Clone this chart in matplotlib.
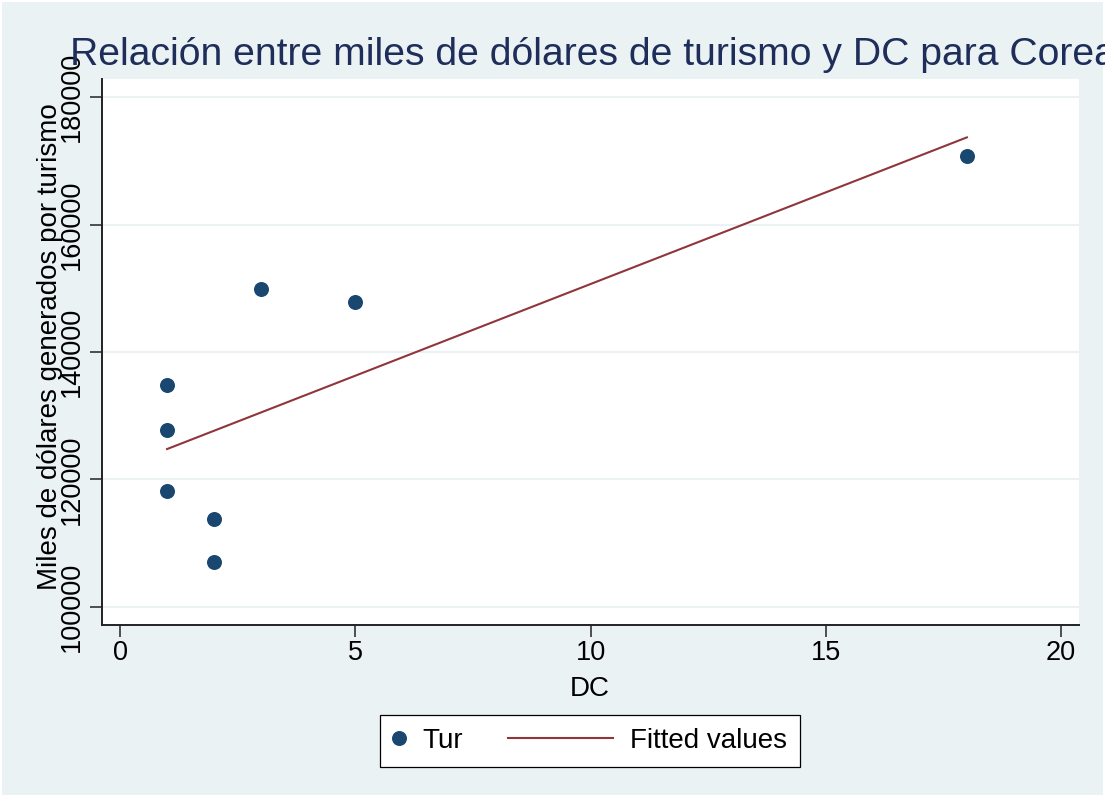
"""Scatter of tourism revenue vs DC for Korea, with linear fit (Stata s2color look)."""
import matplotlib
matplotlib.use("Agg")
import matplotlib.pyplot as plt
import numpy as np
from matplotlib.legend_handler import HandlerBase
from matplotlib.lines import Line2D
from matplotlib.patches import Rectangle

# ── Data ──────────────────────────────────────────────────────────────────────
dc = [1, 1, 1, 2, 2, 3, 5, 18]
tur = [134800, 127800, 118200, 113800, 107100, 149900, 147800, 170700]

y_ticks = [100000, 120000, 140000, 160000, 180000]
x_ticks = [0, 5, 10, 15, 20]

TITLE = "Relación entre miles de dólares de turismo y DC para Corea"
YLABEL = "Miles de dólares generados por turismo"
XLABEL = "DC"

# ── Style ─────────────────────────────────────────────────────────────────────
FONT = "Liberation Sans"
C_BG = "#EAF2F3"
C_MARK = "#1A476F"
C_FIT = "#90353B"
C_TITLE = "#1E2D5A"
W, H = 1105, 797

plt.rcParams["font.family"] = [FONT, "DejaVu Sans"]


def px(x, y):
    """pixel (from top-left) -> figure fraction"""
    return x / W, 1 - y / H


class WideLine(HandlerBase):
    """Legend key: line longer than the (narrow) handle box, extending left."""

    def create_artists(self, legend, orig_handle, xdescent, ydescent,
                       width, height, fontsize, trans):
        y = height / 2 - ydescent
        x1 = width - xdescent
        x0 = x1 - 105 * 72 / 100
        line = Line2D([x0, x1], [y, y], color=orig_handle.get_color(),
                      lw=orig_handle.get_linewidth())
        line.set_transform(trans)
        return [line]


fig = plt.figure(figsize=(W / 100, H / 100), dpi=100)
fig.patch.set_facecolor("white")
fig.patches.append(Rectangle(px(2, H - 2), (W - 4) / W, (H - 4) / H,
                             transform=fig.transFigure, facecolor=C_BG,
                             edgecolor="none", zorder=-10))

l, b = px(102, 625)
r, t = px(1079, 79)
ax = fig.add_axes([l, b, r - l, t - b])
ax.set_facecolor("white")

# fitted line (OLS, like Stata's lfit)
slope, intercept = np.polyfit(dc, tur, 1)
xf = np.array([min(dc), max(dc)])
fit, = ax.plot(xf, intercept + slope * xf, color=C_FIT, lw=1.5, zorder=3)
pts, = ax.plot(dc, tur, "o", color=C_MARK, ms=10.8, mew=0, zorder=4)

ax.set_xlim(-0.383, 20.383)
ax.set_ylim(97176, 182824)
ax.set_xticks(x_ticks)
ax.set_yticks(y_ticks)
ax.set_yticklabels([str(v) for v in y_ticks])

ax.grid(axis="y", color=C_BG, lw=1.5, zorder=0)
ax.set_axisbelow(True)
for s in ("top", "right"):
    ax.spines[s].set_visible(False)
for s in ("left", "bottom"):
    ax.spines[s].set_linewidth(1.4)
    ax.spines[s].set_color("#222222")

ax.tick_params(axis="both", length=8.5, width=1.2, color="#333333",
               labelsize=19.5, labelcolor="black")
ax.tick_params(axis="y", pad=4, labelrotation=90)
ax.tick_params(axis="x", pad=2)
for lbl in ax.get_yticklabels():
    lbl.set_va("center")

# ── Texts ─────────────────────────────────────────────────────────────────────
fig.text(*px(70, 65), TITLE, ha="left", va="baseline", fontsize=28.2,
         color=C_TITLE)
fig.text(*px(57, 347), YLABEL, rotation=90, rotation_mode="anchor",
         ha="center", va="baseline", fontsize=20, color="black")
fig.text(*px(590, 696), XLABEL, ha="center", va="baseline", fontsize=20,
         color="black")

# ── Legend ────────────────────────────────────────────────────────────────────
em = 20 * 100 / 72
leg = fig.legend(handles=[pts, fit], labels=["Tur", "Fitted values"],
                 ncol=2, loc="center", bbox_to_anchor=px(590, 741),
                 fontsize=20, numpoints=1,
                 handlelength=12 / em, handletextpad=17 / em,
                 columnspacing=138 / em, borderpad=0.48,
                 frameon=True, fancybox=False, framealpha=1,
                 edgecolor="black", handler_map={fit: WideLine()})
leg.get_frame().set_linewidth(0.9)

fig.savefig("out.png", dpi=100, facecolor=fig.get_facecolor())
